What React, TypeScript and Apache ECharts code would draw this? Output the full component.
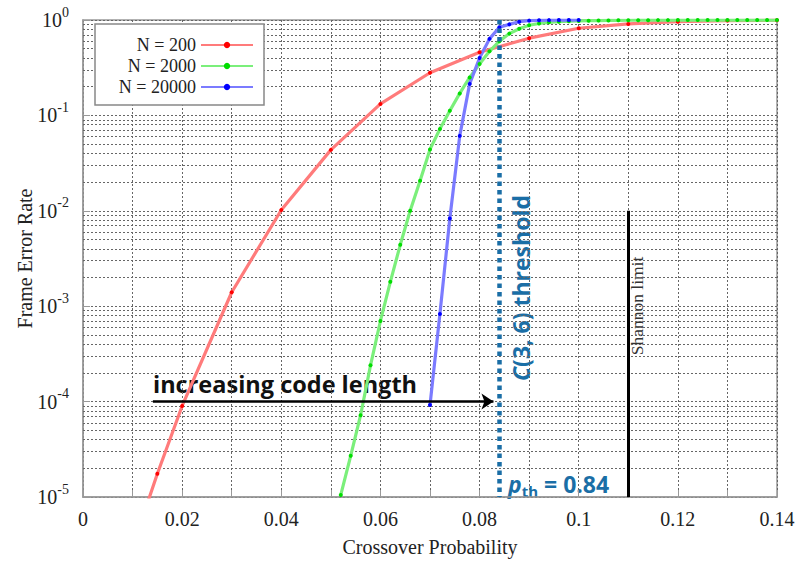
import React, { useEffect, useRef } from 'react';
import * as echarts from 'echarts';

// ---- data ----
const seriesNames = ['N = 200', 'N = 2000', 'N = 20000'];
const xTickLabels = ['0', '0.02', '0.04', '0.06', '0.08', '0.1', '0.12', '0.14'];
const yExponents = [0, -1, -2, -3, -4, -5];

const pN200 = [0.01, 0.015, 0.02, 0.03, 0.04, 0.05, 0.06, 0.07, 0.08, 0.09, 0.1, 0.11, 0.12, 0.13, 0.14];
const ferN200 = [3e-6, 1.75e-5, 9e-5, 1.4e-3, 1.02e-2, 0.0435, 0.132, 0.28, 0.46, 0.645, 0.82, 0.91, 0.96, 0.985, 0.995];

const pN2000 = [
  0.052, 0.054, 0.056, 0.058, 0.06, 0.062, 0.064, 0.066, 0.068, 0.07,
  0.072, 0.074, 0.076, 0.078, 0.08, 0.082, 0.084, 0.086, 0.088, 0.09,
  0.092, 0.094, 0.096, 0.098, 0.1, 0.102, 0.104, 0.106, 0.108, 0.11,
  0.112, 0.114, 0.116, 0.118, 0.12, 0.122, 0.124, 0.126, 0.128, 0.13,
  0.132, 0.134, 0.136, 0.138, 0.14,
];
const ferN2000 = [
  1.05e-5, 2.7e-5, 7.2e-5, 2.4e-4, 7.0e-4, 1.8e-3, 4.4e-3, 1.0e-2, 2.07e-2, 0.044,
  0.072, 0.112, 0.17, 0.25, 0.345, 0.47, 0.6, 0.72, 0.81, 0.88,
  0.92, 0.945, 0.96, 0.97, 0.978, 0.983, 0.987, 0.99, 0.992, 0.994,
  0.995, 0.996, 0.997, 0.997, 0.998, 0.998, 0.998, 0.999, 0.999, 0.999,
  0.999, 0.999, 0.999, 0.999, 0.999,
];

const pN20000 = [0.07, 0.072, 0.074, 0.076, 0.078, 0.08, 0.082, 0.084, 0.086, 0.088, 0.09, 0.092, 0.094, 0.096, 0.098, 0.1];
const ferN20000 = [9.2e-5, 8.3e-4, 8.3e-3, 0.061, 0.214, 0.4, 0.634, 0.84, 0.9, 0.96, 0.985, 0.993, 0.997, 0.998, 0.999, 0.9995];

const thresholdP = 0.084;
const shannonP = 0.11;
const shannonTopFER = 1e-2;
const arrowStart = [0.0141, 1e-4];
const arrowEnd = [0.0828, 1e-4];
const xMin = 0;
const xMax = 0.14;
const yMin = 1e-5;
const yMax = 1;

const lineColors = ['#ff7b7b', '#7bef7b', '#7b7bff'];
const pointColors = ['#ff0000', '#00dd00', '#0000ff'];

const serif = "'Liberation Serif', 'Times New Roman', serif";
const sans = "'Open Sans', 'Noto Sans', sans-serif";
const annotBlue = '#1a6ea6';

const zip = (xs: number[], ys: number[]) => xs.map((x, i) => [x, ys[i]]);

export default function App() {
  const ref = useRef<HTMLDivElement>(null);
  useEffect(() => {
    if (!ref.current) return;
    const chart = echarts.init(ref.current, null, { renderer: 'svg' });

    const minorGrid: number[] = [];
    yExponents.slice(0, 5).forEach((e) => {
      for (let m = 2; m <= 9; m++) minorGrid.push(m * Math.pow(10, e - 1));
    });

    const gridLine = { color: '#666', type: [2, 2] as any, width: 1 };
    const datasets = [zip(pN200, ferN200), zip(pN2000, ferN2000), zip(pN20000, ferN20000)];

    const option: any = {
      animation: false,
      backgroundColor: '#fff',
      grid: { left: 83, top: 20, right: 30, bottom: 62, show: true, borderColor: '#999', borderWidth: 1.5 },
      legend: {
        data: seriesNames,
        orient: 'vertical',
        left: 95,
        top: 24,
        z: 20,
        align: 'right',
        itemWidth: 52,
        itemHeight: 8,
        itemGap: 1,
        padding: [11, 10, 8, 15],
        backgroundColor: '#fff',
        borderColor: '#888',
        borderWidth: 1.5,
        textStyle: { fontFamily: serif, fontSize: 18, color: '#222', width: 86, align: 'right', lineHeight: 20 },
      },
      xAxis: {
        type: 'value',
        min: xMin,
        max: xMax,
        interval: 0.02,
        name: 'Crossover Probability',
        nameLocation: 'middle',
        nameGap: 40,
        nameTextStyle: { fontFamily: serif, fontSize: 20, color: '#222' },
        axisLine: { show: true, lineStyle: { color: '#999', width: 1.5 } },
        axisTick: { inside: true, length: 7, lineStyle: { color: '#999' } },
        minorTick: { show: true, splitNumber: 2, length: 7, lineStyle: { color: '#999' } },
        axisLabel: {
          margin: 12,
          fontFamily: serif,
          fontSize: 20,
          color: '#222',
          formatter: (v: number) => xTickLabels[Math.round(v / 0.02)] ?? '',
        },
        splitLine: { show: true, lineStyle: gridLine },
        minorSplitLine: { show: true, lineStyle: gridLine },
      },
      yAxis: {
        type: 'log',
        logBase: 10,
        min: yMin,
        max: yMax,
        name: 'Frame Error Rate',
        nameLocation: 'middle',
        nameGap: 48,
        nameMoveOverlap: false,
        nameTextStyle: { fontFamily: serif, fontSize: 20, color: '#222' },
        axisLine: { show: true, lineStyle: { color: '#999', width: 1.5 } },
        axisTick: { inside: true, length: 7, lineStyle: { color: '#999' } },
        axisLabel: {
          margin: 14,
          formatter: (v: number) => `{b|10}{s|${Math.round(Math.log10(v))}}`,
          rich: {
            b: { fontFamily: serif, fontSize: 20, color: '#222', lineHeight: 30 },
            s: { fontFamily: serif, fontSize: 14, color: '#222', lineHeight: 14, verticalAlign: 'top' },
          },
        },
        splitLine: { show: true, lineStyle: gridLine },
      },
      series: [
        {
          type: 'line',
          data: [],
          silent: true,
          z: 1,
          markLine: {
            silent: true,
            z: 1,
            precision: 12,
            symbol: ['none', 'none'],
            label: { show: false },
            lineStyle: gridLine,
            data: minorGrid.map((v) => [{ coord: [xMin, v] }, { coord: [xMax, v] }]),
          },
        },
        ...seriesNames.map((name, i) => ({
          name,
          type: 'line',
          data: datasets[i],
          symbol: 'circle',
          symbolSize: 4,
          showSymbol: true,
          clip: true,
          z: 3,
          lineStyle: { color: lineColors[i], width: 3.2 },
          itemStyle: { color: pointColors[i] },
        })),
        {
          type: 'line',
          data: [],
          silent: true,
          z: 6,
          markLine: {
            silent: true,
            z: 6,
            symbol: ['none', 'none'],
            label: { show: false },
            lineStyle: { color: annotBlue, width: 4.5, type: [4.5, 4] },
            data: [[{ coord: [thresholdP, yMax] }, { coord: [thresholdP, yMin] }]],
          },
        },
        {
          type: 'line',
          data: [],
          silent: true,
          z: 6,
          markLine: {
            silent: true,
            z: 6,
            symbol: ['none', 'none'],
            label: { show: false },
            lineStyle: { color: '#000', width: 3, type: 'solid' },
            data: [[{ coord: [shannonP, shannonTopFER] }, { coord: [shannonP, yMin] }]],
          },
        },
        {
          type: 'line',
          data: [],
          silent: true,
          z: 6,
          markLine: {
            silent: true,
            z: 6,
            symbol: ['none', 'arrow'],
            symbolSize: 12,
            label: { show: false },
            lineStyle: { color: '#000', width: 2.5, type: 'solid' },
            data: [[{ coord: arrowStart }, { coord: arrowEnd }]],
          },
        },
      ],
      graphic: [
        {
          type: 'text',
          x: 637,
          y: 306,
          rotation: Math.PI / 2,
          style: {
            text: 'Shannon limit',
            fontFamily: serif,
            fontSize: 17.5,
            fill: '#333',
            align: 'center',
            verticalAlign: 'middle',
          },
        },
        {
          type: 'text',
          x: 521,
          y: 288,
          rotation: Math.PI / 2,
          style: {
            text: '{i|C}{n|(3, 6) threshold}',
            align: 'center',
            verticalAlign: 'middle',
            rich: {
              i: { fontFamily: sans, fontSize: 23, fontWeight: 'bold', fontStyle: 'italic', fill: annotBlue },
              n: { fontFamily: sans, fontSize: 23, fontWeight: 'bold', fill: annotBlue },
            },
          },
        },
        {
          type: 'text',
          x: 153,
          y: 384,
          style: {
            text: 'increasing code length',
            fontFamily: sans,
            fontSize: 23.5,
            fontWeight: 'bold',
            fill: '#111',
            align: 'left',
            verticalAlign: 'middle',
          },
        },
        {
          type: 'text',
          x: 508,
          y: 484,
          style: {
            text: '{i|p}{s|th}{n| = 0.84}',
            align: 'left',
            verticalAlign: 'middle',
            rich: {
              i: { fontFamily: sans, fontSize: 23, fontWeight: 'bold', fontStyle: 'italic', fill: annotBlue, lineHeight: 28 },
              s: { fontFamily: sans, fontSize: 15, fontWeight: 'bold', fill: annotBlue, lineHeight: 15, verticalAlign: 'bottom' },
              n: { fontFamily: sans, fontSize: 23, fontWeight: 'bold', fill: annotBlue, lineHeight: 28 },
            },
          },
        },
      ],
    };

    chart.setOption(option);
    return () => chart.dispose();
  }, []);

  return (
    <div
      ref={ref}
      style={{ position: 'fixed', left: 0, top: 0, width: 807, height: 562, background: '#fff' }}
    />
  );
}
